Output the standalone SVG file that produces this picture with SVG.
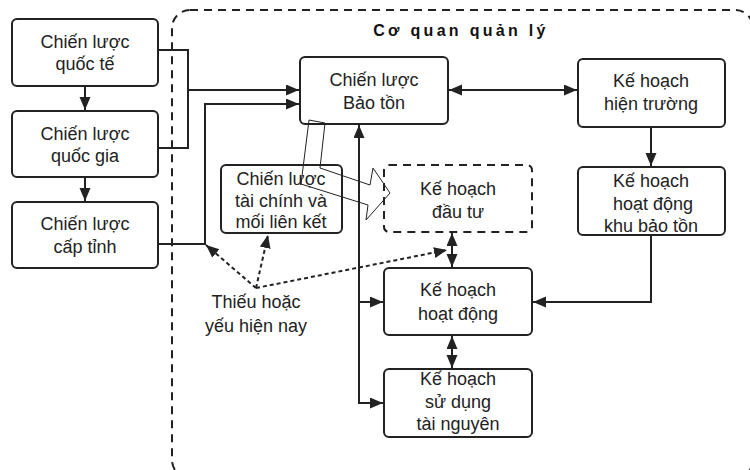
<svg xmlns="http://www.w3.org/2000/svg" width="750" height="470" viewBox="0 0 750 470">
<style>
.box{fill:#fff;stroke:#222;stroke-width:2}
.dbox{fill:#fff;stroke:#222;stroke-width:2;stroke-dasharray:8,6}
.t{font-family:"Liberation Sans",Arial,sans-serif;font-size:18px;fill:#222;text-anchor:middle}
.c{fill:none;stroke:#222;stroke-width:2}
.d{fill:none;stroke:#222;stroke-width:2;stroke-dasharray:4,3}
</style>
<defs>
<marker id="ah" markerUnits="userSpaceOnUse" markerWidth="14" markerHeight="12" refX="13" refY="5.5" orient="auto-start-reverse"><path d="M0,0 L13,5.5 L0,11 z" fill="#222"/></marker>
</defs>
<rect x="0" y="0" width="750" height="470" fill="#fff"/>
<g id="container">
<rect x="172" y="10" width="581" height="468" rx="18" fill="none" stroke="#222" stroke-width="2" stroke-dasharray="8,6"/>
<text x="461" y="36" font-family="'Liberation Sans',Arial,sans-serif" font-size="16" font-weight="bold" letter-spacing="3.3" text-anchor="middle" fill="#111">Cơ quan quản lý</text>
</g>
<g id="connectors">
<path class="c" d="M85,86 V110" marker-end="url(#ah)"/>
<path class="c" d="M85,177 V201" marker-end="url(#ah)"/>
<path class="c" d="M158,50 H188 V148 H158"/>
<path class="c" d="M188,90 H299" marker-end="url(#ah)"/>
<path class="c" d="M158,244 H205 V104 H299" marker-end="url(#ah)"/>
<path class="c" d="M449,90 H577" marker-start="url(#ah)" marker-end="url(#ah)"/>
<path class="c" d="M651,127 V166" marker-end="url(#ah)"/>
<path class="c" d="M651,235 V302 H533" marker-end="url(#ah)"/>
<path class="c" d="M383,403 H359 V125" marker-end="url(#ah)"/>
<path class="c" d="M359,302 H383" marker-end="url(#ah)"/>
<path class="c" d="M359,403 H383" marker-end="url(#ah)"/>
<path class="c" d="M452,233 V267" marker-start="url(#ah)" marker-end="url(#ah)"/>
<path class="c" d="M452,336 V368" marker-start="url(#ah)" marker-end="url(#ah)"/>
<path class="d" d="M256,288 L206,245" marker-end="url(#ah)"/>
<path class="d" d="M256,288 L268,235" marker-end="url(#ah)"/>
<path class="d" d="M256,288 L447,250" marker-end="url(#ah)"/>
</g>
<g id="n1"><rect class="box" x="12" y="19" width="146" height="67" rx="5"/><text class="t" x="85" y="48">Chiến lược</text><text class="t" x="85" y="70">quốc tế</text></g>
<g id="n2"><rect class="box" x="12" y="111" width="146" height="66" rx="5"/><text class="t" x="85" y="140">Chiến lược</text><text class="t" x="85" y="162">quốc gia</text></g>
<g id="n3"><rect class="box" x="12" y="202" width="146" height="66" rx="5"/><text class="t" x="85" y="230">Chiến lược</text><text class="t" x="85" y="253">cấp tỉnh</text></g>
<g id="n4"><rect class="box" x="300" y="57" width="148" height="67" rx="5"/><text class="t" x="374" y="86">Chiến lược</text><text class="t" x="374" y="109">Bảo tồn</text></g>
<g id="n5"><rect class="box" x="578" y="59" width="147" height="68" rx="5"/><text class="t" x="651" y="87">Kế hoạch</text><text class="t" x="651" y="110">hiện trường</text></g>
<g id="n6"><rect class="box" x="578" y="167" width="147" height="68" rx="5"/><text class="t" x="651" y="187">Kế hoạch</text><text class="t" x="653" y="210">hoạt động</text><text class="t" x="651" y="232">khu bảo tồn</text></g>
<g id="n7"><rect class="box" x="221" y="165" width="121" height="68" rx="5"/><text class="t" x="281" y="185">Chiến lược</text><text class="t" x="281" y="207">tài chính và</text><text class="t" x="281" y="228">mối liên kết</text></g>
<g id="n8"><rect class="dbox" x="384" y="165" width="148" height="67" rx="5"/><text class="t" x="458" y="195">Kế hoạch</text><text class="t" x="458" y="218">đầu tư</text></g>
<g id="n9"><rect class="box" x="384" y="268" width="148" height="67" rx="5"/><text class="t" x="458" y="296">Kế hoạch</text><text class="t" x="458" y="320">hoạt động</text></g>
<g id="n10"><rect class="box" x="384" y="369" width="148" height="68" rx="5"/><text class="t" x="458" y="385">Kế hoạch</text><text class="t" x="458" y="408">sử dụng</text><text class="t" x="458" y="430">tài nguyên</text></g>
<g id="hollow-arrow"><polygon points="309,120 325,123 320,168 370,185 373,168 390,193 366,220 368,205 301,184" fill="none" stroke="#222" stroke-width="1"/></g>
<g id="label"><text class="t" x="256" y="308">Thiếu hoặc</text><text class="t" x="256" y="332">yếu hiện nay</text></g>
</svg>
